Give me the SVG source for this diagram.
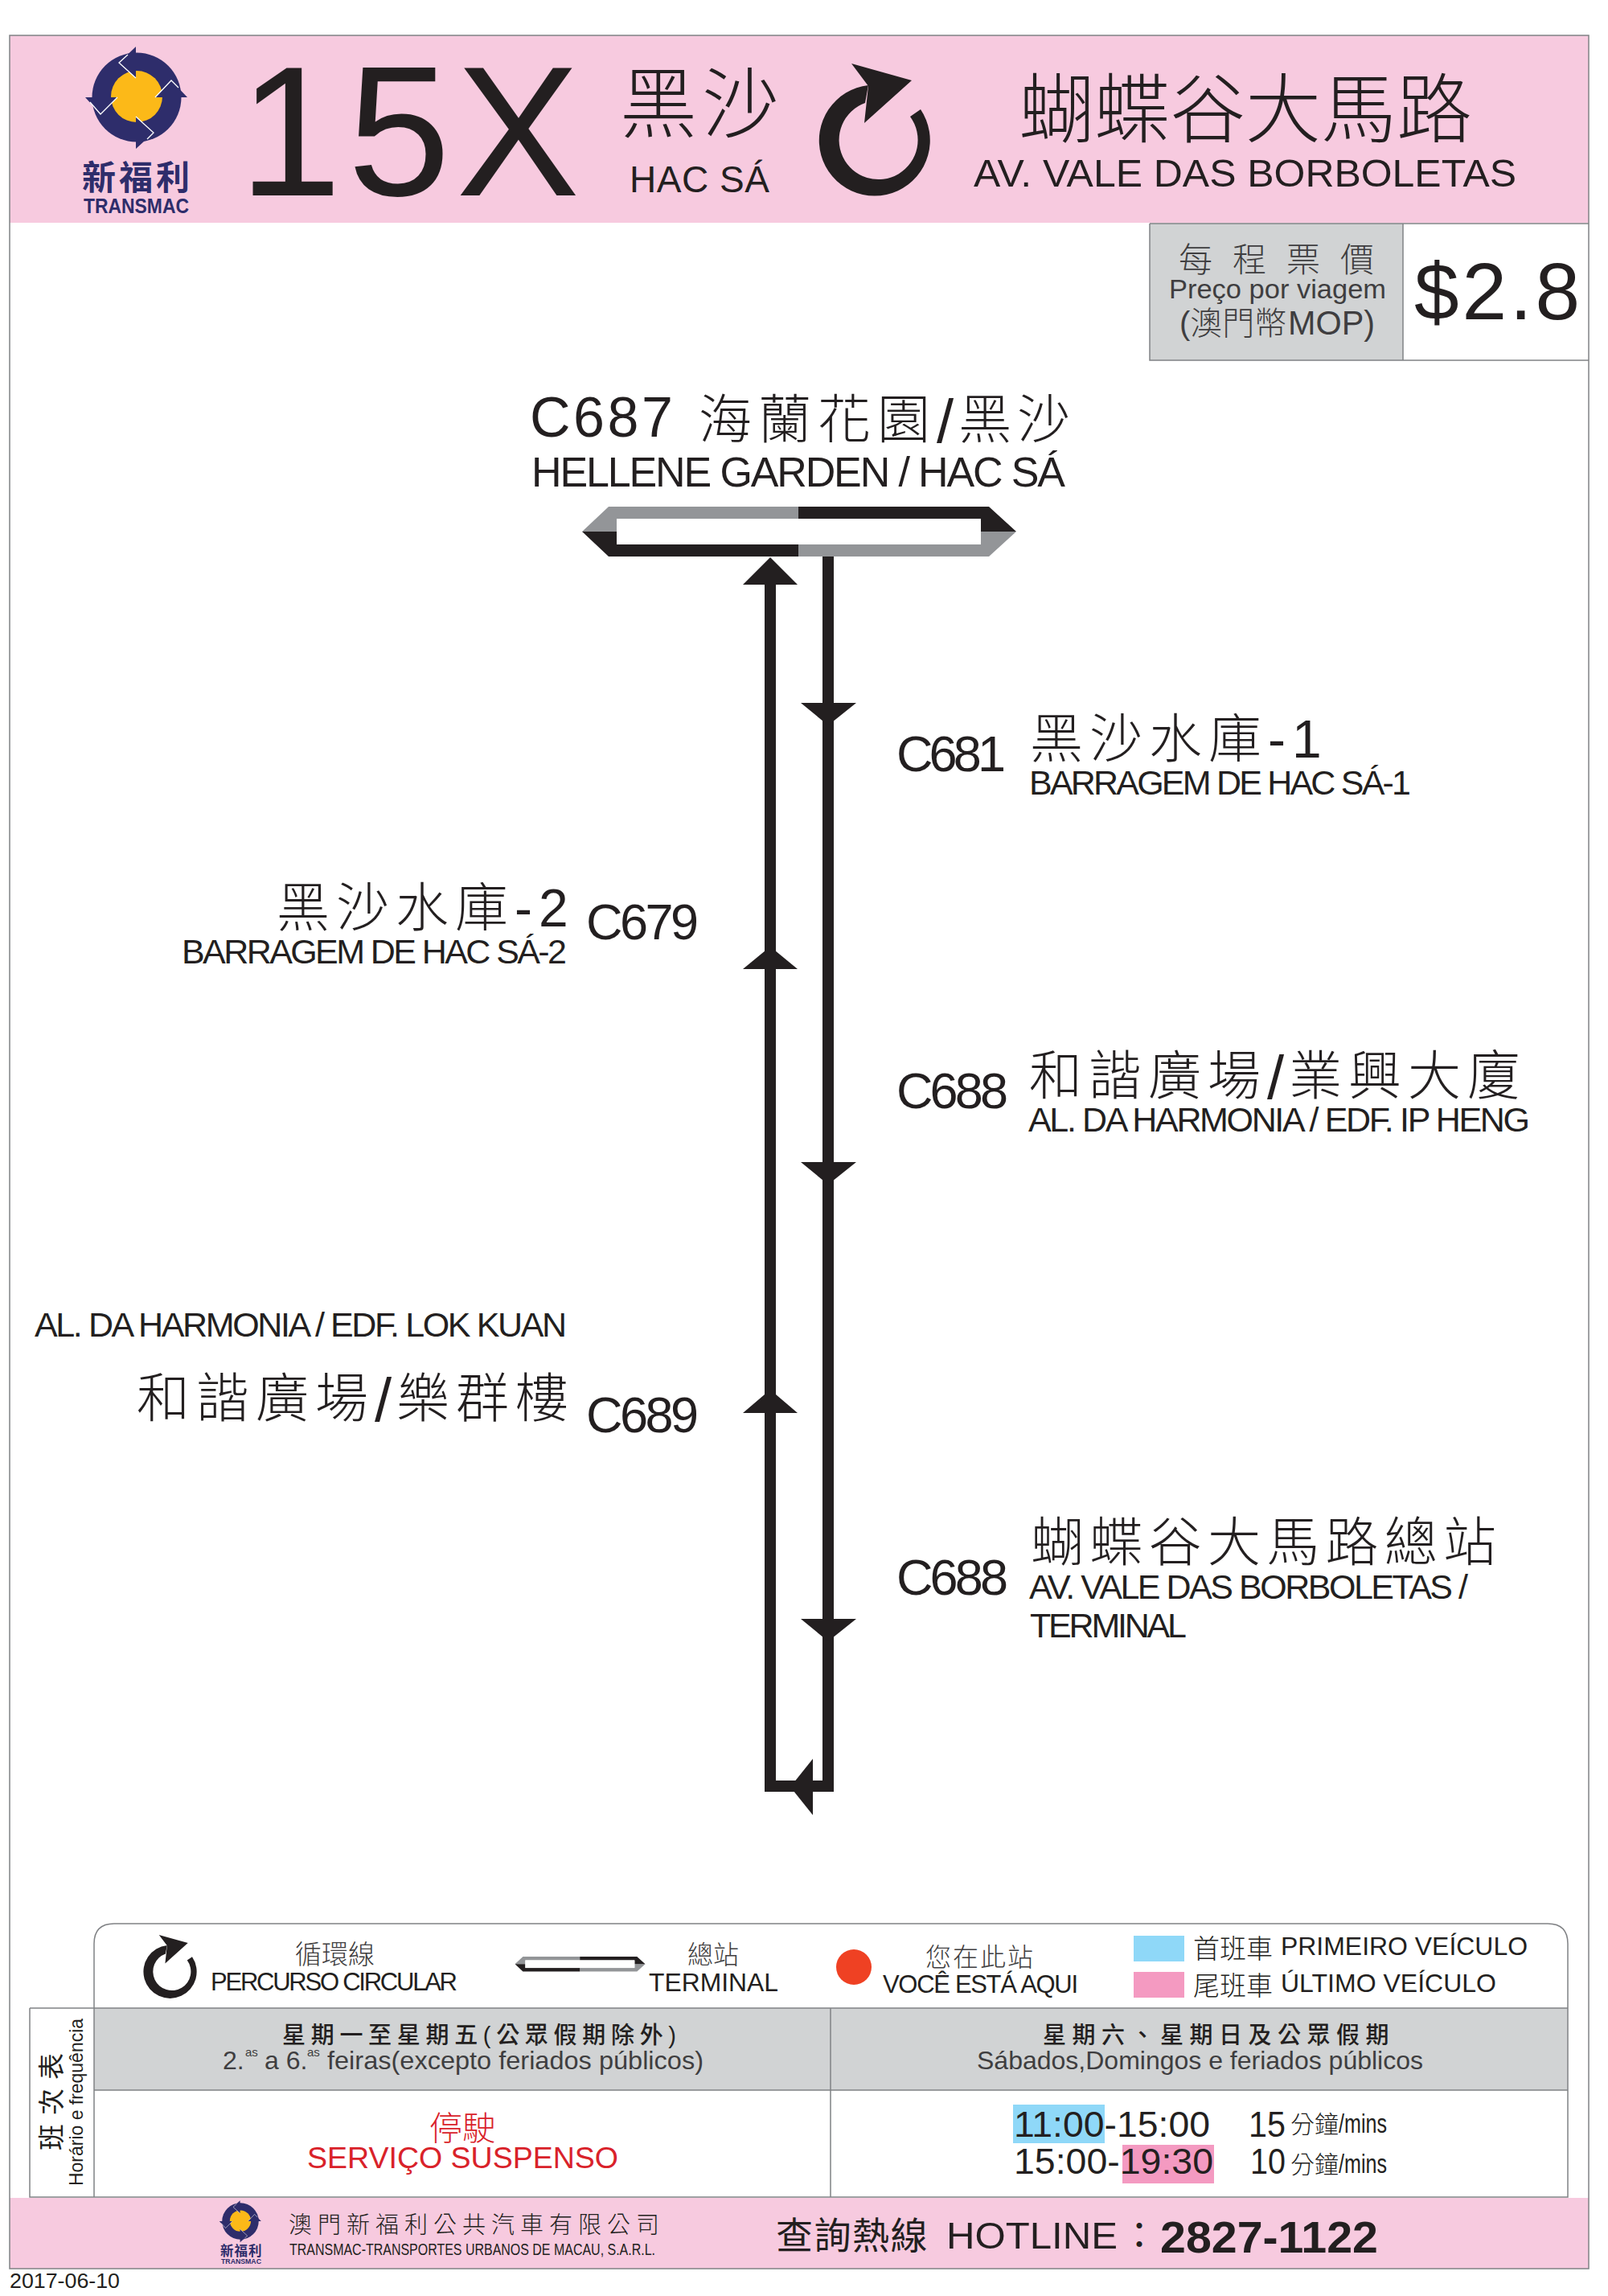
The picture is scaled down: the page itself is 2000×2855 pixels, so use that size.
<svg xmlns="http://www.w3.org/2000/svg" xmlns:xlink="http://www.w3.org/1999/xlink" width="2000" height="2855" viewBox="0 0 2000 2855">
<style>
text{font-family:"Liberation Sans","Noto Sans CJK TC",sans-serif;fill:#231f20}
.l{font-weight:300}
.n{fill:#2e2d6b;font-weight:700}
.g{fill:#3f3e40}
.r{fill:#d9222a}
.pink{fill:#f7cadf}
.line{stroke:#808285;stroke-width:1.5;fill:none}
.ah{fill:#231f20}
.route{fill:none;stroke:#231f20;stroke-width:14;stroke-linejoin:miter}
</style>
<defs>
<g id="logo">
<circle cx="170" cy="121" r="55.5" fill="#2e2d6b"/>
<circle cx="170" cy="120" r="32" fill="#fcb918"/>
<path fill="#2e2d6b" d="M169,58L148,78L169,97ZM106,121L146,121L125,142ZM169,145L169,185L191,165ZM193,121L233,121L213,100Z"/>
<path fill="none" stroke="#fff" stroke-width="1.3" d="M159,68L148,78L169,97M112,127L125,142L146,121M169,145L191,165L183,173M193,121L213,100L222,109"/>
</g>
<g id="loop">
<path fill="#231f20" d="M1145,136A69,69 0 1 1 1080,106L1076,128A49,49 0 1 0 1132,145Z"/>
<path fill="#231f20" d="M1059,79L1134,100L1075,153L1080,107Z"/>
</g>
<g id="terminal">
<path fill="#939598" d="M724,661L757,630H993V645H767V661ZM1264,661L1230,692H993V677H1220V661Z"/>
<path fill="#231f20" d="M724,661L757,692H993V677H767V661ZM1264,661L1230,630H993V645H1220V661Z"/>
<rect x="767" y="645" width="453" height="32" fill="#fff"/>
</g>
</defs>
<rect width="2000" height="2855" fill="#fff"/>
<g id="frame">
<rect class="pink" x="12" y="44" width="1964" height="233"/>
<rect class="pink" x="12" y="2733" width="1964" height="88"/>
<rect class="line" x="12" y="44" width="1964" height="2777"/>
</g>
<g id="header">
<use xlink:href="#logo" href="#logo"/>
<text class="n" x="102" y="236" font-size="42" letter-spacing="4">新福利</text>
<text class="n" x="104" y="265" font-size="25" textLength="131" lengthAdjust="spacingAndGlyphs">TRANSMAC</text>
<text x="297" y="243" font-size="230" textLength="424">15X</text>
<text class="l" x="771" y="163" font-size="96" letter-spacing="6">黑沙</text>
<text x="783" y="239" font-size="46" textLength="174">HAC SÁ</text>
<use xlink:href="#loop" href="#loop"/>
<text class="l" x="1267" y="170" font-size="94">蝴蝶谷大馬路</text>
<text x="1211" y="232" font-size="48" textLength="675" lengthAdjust="spacingAndGlyphs">AV. VALE DAS BORBOLETAS</text>
</g>
<g id="fare">
<rect x="1430" y="278" width="315" height="170" fill="#d1d3d4"/>
<path class="line" d="M1430,278V448H1976M1745,278V448M1430,278H1976"/>
<text class="l g" x="1466" y="338" font-size="42" letter-spacing="25">每程票價</text>
<text class="g" x="1454" y="371" font-size="34" textLength="270" lengthAdjust="spacingAndGlyphs">Preço por viagem</text>
<text class="l g" x="1467" y="416" font-size="40">(澳門幣</text>
<text class="g" x="1602" y="416" font-size="43" textLength="108" lengthAdjust="spacingAndGlyphs">MOP)</text>
<text x="1759" y="397" font-size="100" textLength="206">$2.8</text>
</g>
<g id="connectors">
<path class="route" d="M958,727V2221H1030V692"/>
<path class="ah" d="M958,693L992,727H924Z"/>
<path class="ah" d="M958,1177L992,1205H924Z"/>
<path class="ah" d="M958,1728L992,1757H924Z"/>
<path class="ah" d="M1030,902L1065,874H996Z"/>
<path class="ah" d="M1030,1473L1065,1445H996Z"/>
<path class="ah" d="M1030,2041L1065,2013H996Z"/>
<path class="ah" d="M983,2222L1011,2187V2257Z"/>
</g>
<g id="stop-C687">
<use xlink:href="#terminal" href="#terminal"/>
<text x="659" y="543" font-size="70" textLength="178">C687</text>
<text class="l" x="869" y="545" font-size="66"><tspan letter-spacing="8">海蘭花園</tspan><tspan y="550" font-size="76" letter-spacing="6">/</tspan><tspan y="545" letter-spacing="7">黑沙</tspan></text>
<text x="661" y="605" font-size="52" textLength="664">HELLENE GARDEN / HAC SÁ</text>
</g>
<g id="stop-C681">
<text x="1115" y="959" font-size="63" textLength="136">C681</text>
<text class="l" x="1281" y="942" font-size="66" letter-spacing="8">黑沙水庫-1</text>
<text x="1280" y="988" font-size="43" textLength="475">BARRAGEM DE HAC SÁ-1</text>
</g>
<g id="stop-C679">
<text x="729" y="1168" font-size="63" textLength="140">C679</text>
<text class="l" x="344" y="1152" font-size="66" letter-spacing="8">黑沙水庫-2</text>
<text x="226" y="1198" font-size="43" textLength="479">BARRAGEM DE HAC SÁ-2</text>
</g>
<g id="stop-C688a">
<text x="1115" y="1378" font-size="63" textLength="139">C688</text>
<text class="l" x="1280" y="1361" font-size="66"><tspan letter-spacing="8">和諧廣場</tspan><tspan y="1366" font-size="76" letter-spacing="6">/</tspan><tspan y="1361" letter-spacing="8">業興大廈</tspan></text>
<text x="1279" y="1407" font-size="43" textLength="624">AL. DA HARMONIA / EDF. IP HENG</text>
</g>
<g id="stop-C689">
<text x="43" y="1662" font-size="43" textLength="662">AL. DA HARMONIA / EDF. LOK KUAN</text>
<text class="l" x="170" y="1762" font-size="66"><tspan letter-spacing="8">和諧廣場</tspan><tspan y="1767" font-size="76" letter-spacing="6">/</tspan><tspan y="1762" letter-spacing="8">樂群樓</tspan></text>
<text x="729" y="1781" font-size="63" textLength="140">C689</text>
</g>
<g id="stop-C688b">
<text x="1115" y="1983" font-size="63" textLength="139">C688</text>
<text class="l" x="1282" y="1941" font-size="66" letter-spacing="7.3">蝴蝶谷大馬路總站</text>
<text x="1280" y="1988" font-size="43" textLength="546">AV. VALE DAS BORBOLETAS /</text>
<text x="1281" y="2036" font-size="43" textLength="195">TERMINAL</text>
</g>
<g id="legend">
<path class="line" d="M117,2497V2417Q117,2392 142,2392H1925Q1950,2392 1950,2417V2497"/>
<use xlink:href="#loop" href="#loop" transform="translate(-310.6 2368) scale(.48)"/>
<text class="l g" x="367" y="2442" font-size="33">循環線</text>
<text x="262" y="2475" font-size="31" textLength="307">PERCURSO CIRCULAR</text>
<use xlink:href="#terminal" href="#terminal" transform="translate(423.3 2244) scale(.3)"/>
<text class="l g" x="855" y="2442" font-size="32">總站</text>
<text x="807" y="2476" font-size="31" textLength="161" lengthAdjust="spacingAndGlyphs">TERMINAL</text>
<circle cx="1062" cy="2446" r="22" fill="#ef4123"/>
<text class="l g" x="1151" y="2445" font-size="32" letter-spacing="2">您在此站</text>
<text x="1098" y="2478" font-size="31" textLength="243">VOCÊ ESTÁ AQUI</text>
<rect x="1410" y="2407" width="63" height="32" fill="#8fd8f8"/>
<rect x="1410" y="2452" width="63" height="32" fill="#f49ac1"/>
<text class="l" x="1484" y="2435" font-size="33">首班車</text>
<text x="1593" y="2431" font-size="32" textLength="307" lengthAdjust="spacingAndGlyphs">PRIMEIRO VEÍCULO</text>
<text class="l" x="1484" y="2481" font-size="33">尾班車</text>
<text x="1593" y="2477" font-size="32" textLength="268" lengthAdjust="spacingAndGlyphs">ÚLTIMO VEÍCULO</text>
</g>
<g id="timetable">
<rect x="117" y="2497" width="1833" height="102" fill="#d1d3d4"/>
<path class="line" d="M37,2497H1950M117,2599H1950"/>
<path class="line" d="M37,2497V2732H1950V2497M117,2497V2732M1033,2497V2732"/>
<rect x="1260" y="2617" width="114" height="48" fill="#8fd8f8"/>
<rect x="1396" y="2667" width="114" height="48" fill="#f49ac1"/>
<text transform="translate(76 2674) rotate(-90)" font-size="33" letter-spacing="11">班次表</text>
<text transform="translate(103 2718) rotate(-90)" font-size="24" textLength="208" lengthAdjust="spacingAndGlyphs">Horário e frequência</text>
<text x="351" y="2541" font-size="29" font-weight="500" textLength="490" lengthAdjust="spacing">星期一至星期五(公眾假期除外)</text>
<text class="g" x="277" y="2573" font-size="32">2.</text>
<text class="g" x="305" y="2557" font-size="15">as</text>
<text class="g" x="329" y="2573" font-size="32">a 6.</text>
<text class="g" x="382" y="2557" font-size="15">as</text>
<text class="g" x="407" y="2573" font-size="32" textLength="468" lengthAdjust="spacingAndGlyphs">feiras(excepto feriados públicos)</text>
<text x="1297" y="2541" font-size="29" font-weight="500" letter-spacing="7.5">星期六、星期日及公眾假期</text>
<text class="g" x="1215" y="2573" font-size="32" textLength="555" lengthAdjust="spacingAndGlyphs">Sábados,Domingos e feriados públicos</text>
<text class="l r" x="534" y="2661" font-size="41">停駛</text>
<text class="r" x="382" y="2696" font-size="36" textLength="387" lengthAdjust="spacingAndGlyphs">SERVIÇO SUSPENSO</text>
<text x="1261" y="2657" font-size="44" textLength="244" lengthAdjust="spacingAndGlyphs">11:00-15:00</text>
<text x="1553" y="2657" font-size="44" textLength="46" lengthAdjust="spacingAndGlyphs">15</text>
<text class="l" x="1605" y="2652" font-size="30">分鐘</text>
<text x="1665" y="2652" font-size="34" textLength="60" lengthAdjust="spacingAndGlyphs">/mins</text>
<text x="1261" y="2703" font-size="44" textLength="248" lengthAdjust="spacingAndGlyphs">15:00-19:30</text>
<text x="1555" y="2703" font-size="44" textLength="44" lengthAdjust="spacingAndGlyphs">10</text>
<text class="l" x="1605" y="2702" font-size="30">分鐘</text>
<text x="1665" y="2702" font-size="34" textLength="60" lengthAdjust="spacingAndGlyphs">/mins</text>
</g>
<g id="footer">
<use xlink:href="#logo" href="#logo" transform="translate(229.3 2712.4) scale(.41)"/>
<text class="n" x="274" y="2805" font-size="16.5" letter-spacing="1">新福利</text>
<text class="n" x="275" y="2815" font-size="8.5" textLength="50" lengthAdjust="spacingAndGlyphs">TRANSMAC</text>
<text class="l" x="359" y="2777" font-size="29" letter-spacing="7">澳門新福利公共汽車有限公司</text>
<text x="360" y="2804" font-size="20" textLength="455" lengthAdjust="spacingAndGlyphs">TRANSMAC-TRANSPORTES URBANOS DE MACAU, S.A.R.L.</text>
<text x="965" y="2796" font-size="46" letter-spacing="1.5">查詢熱線</text>
<text x="1177" y="2796" font-size="47" textLength="213" lengthAdjust="spacingAndGlyphs" font-weight="500">HOTLINE</text>
<text x="1394" y="2796" font-size="46">：</text>
<text x="1443" y="2801" font-size="55" font-weight="700" textLength="271" lengthAdjust="spacingAndGlyphs">2827-1122</text>
<text x="12" y="2845" font-size="25" textLength="137" lengthAdjust="spacingAndGlyphs">2017-06-10</text>
</g>
</svg>
